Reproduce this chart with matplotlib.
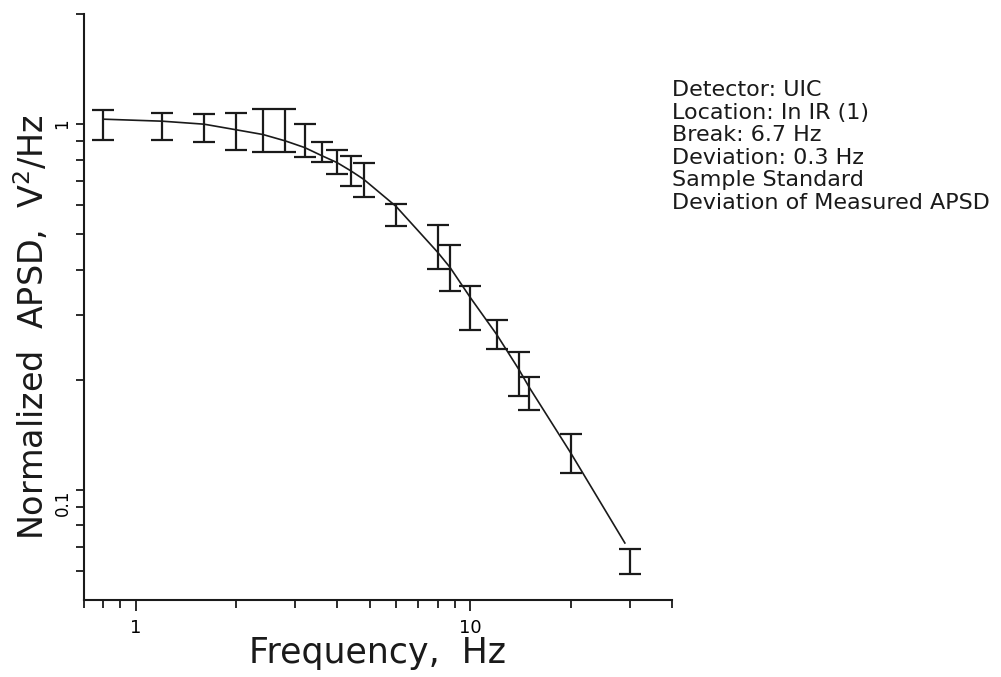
import matplotlib.pyplot as plt
from matplotlib.ticker import FixedLocator, NullFormatter
import numpy as np

# measured APSD, error bar ends
freq = [0.8, 1.2, 1.6, 2.0, 2.4, 2.8, 3.2, 3.6, 4.0, 4.4, 4.8, 6.0,
        8.0, 8.7, 10, 12, 14, 15, 20, 30]
upper = [1.092, 1.072, 1.065, 1.07, 1.099, 1.099, 1.0, 0.893, 0.849, 0.817,
         0.782, 0.604, 0.529, 0.466, 0.36, 0.292, 0.239, 0.203, 0.142, 0.0689]
lower = [0.904, 0.904, 0.893, 0.849, 0.838, 0.838, 0.812, 0.787, 0.729, 0.676,
         0.631, 0.526, 0.401, 0.349, 0.273, 0.243, 0.181, 0.165, 0.111, 0.0589]

# fitted curve
fit_f = [0.8, 1.2, 1.6, 2.0, 2.4, 2.8, 3.2, 3.6, 4.0, 4.4, 4.8, 6.0,
         8.0, 8.7, 10, 12, 14, 15, 20, 29]
fit_v = [1.032, 1.019, 1.0, 0.965, 0.937, 0.900, 0.863, 0.820, 0.785, 0.745,
         0.707, 0.596, 0.446, 0.406, 0.336, 0.266, 0.213, 0.191, 0.126, 0.0716]

info = ["Detector: UIC", "Location: In IR (1)", "Break: 6.7 Hz",
        "Deviation: 0.3 Hz", "Sample Standard", "Deviation of Measured APSD"]

ink = '#1a1a1a'

fig = plt.figure(figsize=(10.01, 6.77), dpi=100)
ax = fig.add_axes([0.0839, 0.1137, 0.587, 0.8655])

lo = np.array(lower)
hi = np.array(upper)
mid = np.sqrt(lo * hi)
ax.errorbar(freq, mid, yerr=[mid - lo, hi - mid], fmt='none', ecolor=ink,
            elinewidth=1.6, capsize=8, capthick=1.6)
ax.plot(fit_f, fit_v, color=ink, lw=1.2)

ax.set_xscale('log')
ax.set_yscale('log')
ax.set_xlim(0.7, 40)
ax.set_ylim(0.05, 2.0)

for s in ['top', 'right']:
    ax.spines[s].set_visible(False)
for s in ['left', 'bottom']:
    ax.spines[s].set_linewidth(1.5)
    ax.spines[s].set_color(ink)

ax.set_xticks([1, 10], ['1', '10'])
ax.xaxis.set_minor_locator(FixedLocator([0.7, 0.8, 0.9, 2, 3, 4, 5, 6, 7, 8, 9, 20, 30, 40]))
ax.xaxis.set_minor_formatter(NullFormatter())
ax.set_yticks([0.1, 1], ['0.1', '1'])
ax.yaxis.set_minor_locator(FixedLocator([0.06, 0.07, 0.08, 0.09, 0.2, 0.3, 0.4,
                                         0.5, 0.6, 0.7, 0.8, 0.9, 2]))
ax.yaxis.set_minor_formatter(NullFormatter())

ax.tick_params(axis='both', which='both', direction='out', color=ink, width=1.3)
ax.tick_params(axis='x', which='major', length=8, pad=6, labelsize=13)
ax.tick_params(axis='x', which='minor', length=6)
ax.tick_params(axis='y', which='major', length=6, pad=3, labelsize=12)
ax.tick_params(axis='y', which='minor', length=6)

for lbl in ax.get_yticklabels():
    lbl.set_rotation(90)
    lbl.set_va('center' if lbl.get_text() == '1' else 'top')

ax.set_xlabel('Frequency,  Hz', fontsize=25, color=ink)
ax.xaxis.set_label_coords(0.5, -0.062, transform=ax.transAxes)
ax.xaxis.label.set_va('top')
fig.text(0.032, 1 - 327 / 677, 'Normalized  APSD,  V$^2$/Hz', rotation=90,
         ha='center', va='center', fontsize=24, color=ink)

fig.text(672 / 1001, 1 - 80 / 677, '\n'.join(info), ha='left', va='top',
         fontsize=16, linespacing=1.16, color=ink)

fig.savefig('out.png', dpi=100)
